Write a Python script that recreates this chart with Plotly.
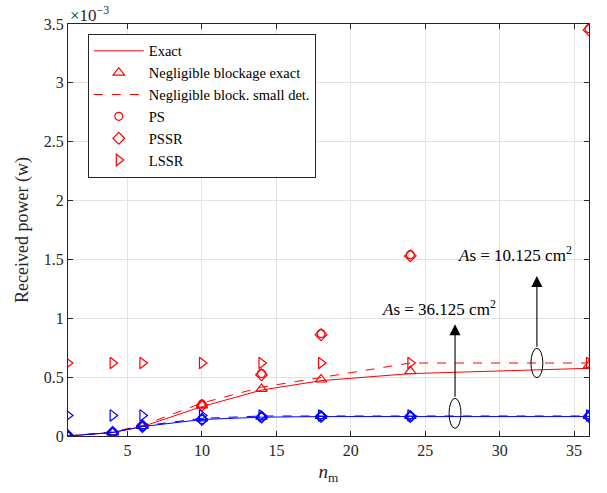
import plotly.graph_objects as go

# Data (received power in units of 1e-3 W)
n_m = [1, 4, 6, 10, 14, 18, 24, 36]

# As = 10.125 cm^2 (red)
red_exact = [0.0, 0.03, 0.08, 0.25, 0.39, 0.47, 0.53, 0.575]
red_negl_exact = [0.0, 0.03, 0.085, 0.26, 0.40, 0.48, 0.55, 0.60]
red_negl_small = [0.0, 0.035, 0.09, 0.28, 0.415, 0.495, 0.62, 0.62]
red_ps = [0.0, 0.03, 0.09, 0.27, 0.53, 0.87, 1.54, 3.46]
red_pssr = [0.0, 0.03, 0.09, 0.26, 0.52, 0.86, 1.53, 3.45]
red_lssr = [0.62, 0.62, 0.62, 0.62, 0.62, 0.62, 0.62, 0.62]

# As = 36.125 cm^2 (blue)
blue_exact = [0.0, 0.03, 0.08, 0.14, 0.16, 0.165, 0.165, 0.165]
blue_negl_exact = [0.0, 0.03, 0.085, 0.15, 0.165, 0.17, 0.17, 0.17]
blue_negl_small = [0.0, 0.03, 0.085, 0.15, 0.17, 0.17, 0.17, 0.17]
blue_ps = [0.0, 0.03, 0.08, 0.14, 0.16, 0.165, 0.165, 0.165]
blue_pssr = [0.0, 0.03, 0.08, 0.14, 0.16, 0.165, 0.165, 0.165]
blue_lssr = [0.175, 0.175, 0.175, 0.175, 0.175, 0.175, 0.175, 0.175]

x_ticks = [5, 10, 15, 20, 25, 30, 35]
y_ticks = [0, 0.5, 1, 1.5, 2, 2.5, 3, 3.5]
y_ticktext = ["0", "0.5", "1", "1.5", "2", "2.5", "3", "3.5"]

RED = "#ff0000"
BLUE = "#0000ff"
FONT = "Liberation Serif"
AXC = "#262626"

fig = go.Figure()

def add_group(color, exact, negl_exact, negl_small, ps, pssr, lssr, show):
    fig.add_trace(go.Scatter(x=n_m, y=exact, mode="lines", name="Exact",
                             line=dict(color=color, width=1), showlegend=show))
    fig.add_trace(go.Scatter(x=n_m, y=negl_exact, mode="markers", name="Negligible blockage exact",
                             marker=dict(symbol="triangle-up-open", size=10, color=color,
                                         line=dict(width=1.2, color=color)), showlegend=show))
    fig.add_trace(go.Scatter(x=n_m, y=negl_small, mode="lines", name="Negligible block. small det.",
                             line=dict(color=color, width=1, dash="dash"), showlegend=show))
    fig.add_trace(go.Scatter(x=n_m, y=ps, mode="markers", name="PS",
                             marker=dict(symbol="circle-open", size=8, color=color,
                                         line=dict(width=1.2, color=color)), showlegend=show))
    fig.add_trace(go.Scatter(x=n_m, y=pssr, mode="markers", name="PSSR",
                             marker=dict(symbol="diamond-open", size=9, color=color,
                                         line=dict(width=1.2, color=color)), showlegend=show))
    fig.add_trace(go.Scatter(x=n_m, y=lssr, mode="markers", name="LSSR",
                             marker=dict(symbol="triangle-right-open", size=10, color=color,
                                         line=dict(width=1.2, color=color)), showlegend=show))

add_group(RED, red_exact, red_negl_exact, red_negl_small, red_ps, red_pssr, red_lssr, True)
add_group(BLUE, blue_exact, blue_negl_exact, blue_negl_small, blue_ps, blue_pssr, blue_lssr, False)

# Ellipses marking the two groups
ellipse_1 = dict(x0=26.6, x1=27.4, y0=0.065, y1=0.32)
ellipse_2 = dict(x0=32.1, x1=32.9, y0=0.495, y1=0.745)
for e in (ellipse_1, ellipse_2):
    fig.add_shape(type="circle", xref="x", yref="y", line=dict(color="black", width=1), **e)

# Arrows
arrows = [(27.0, 0.32, 0.95), (32.5, 0.745, 1.36)]
for ax_x, y_tail, y_head in arrows:
    fig.add_annotation(x=ax_x, y=y_head, ax=ax_x, ay=y_tail, xref="x", yref="y",
                       axref="x", ayref="y", text="", showarrow=True, arrowhead=2,
                       arrowsize=2.0, arrowwidth=1.1, arrowcolor="black")

fig.add_annotation(x=25.9, y=1.085, xref="x", yref="y", showarrow=False,
                   text="<i>A</i>s = 36.125 cm<sup>2</sup>",
                   font=dict(family=FONT, size=17, color="black"))
fig.add_annotation(x=31.0, y=1.55, xref="x", yref="y", showarrow=False,
                   text="<i>A</i>s = 10.125 cm<sup>2</sup>",
                   font=dict(family=FONT, size=17, color="black"))

fig.add_annotation(x=0, y=1, xref="paper", yref="paper", xanchor="left", yanchor="bottom",
                   showarrow=False, text="×10<sup>−3</sup>", yshift=-3,
                   font=dict(family=FONT, size=17, color=AXC))

axis_common = dict(showline=True, linecolor=AXC, linewidth=1, mirror="ticks",
                   ticks="inside", ticklen=5, tickcolor=AXC,
                   showgrid=True, gridcolor="#e3e3e3", gridwidth=1, zeroline=False,
                   tickfont=dict(family=FONT, size=16, color=AXC))

fig.update_xaxes(range=[1, 36], tickvals=x_ticks,
                 title=dict(text="<i>n</i><sub>m</sub>", font=dict(family=FONT, size=19, color=AXC),
                            standoff=6),
                 **axis_common)
fig.update_yaxes(range=[0, 3.5], tickvals=y_ticks, ticktext=y_ticktext,
                 title=dict(text="Received power (w)", font=dict(family=FONT, size=18, color=AXC),
                            standoff=10),
                 **axis_common)

fig.update_layout(
    width=607, height=493,
    margin=dict(l=68, r=18, t=24, b=57),
    plot_bgcolor="white", paper_bgcolor="white",
    font=dict(family=FONT, size=14, color=AXC),
    legend=dict(x=0.038, y=0.976, xanchor="left", yanchor="top",
                bgcolor="white", bordercolor=AXC, borderwidth=1,
                font=dict(family=FONT, size=14.5, color="black"),
                tracegroupgap=0, itemwidth=50),
    showlegend=True,
)

fig.write_html("out.html")
